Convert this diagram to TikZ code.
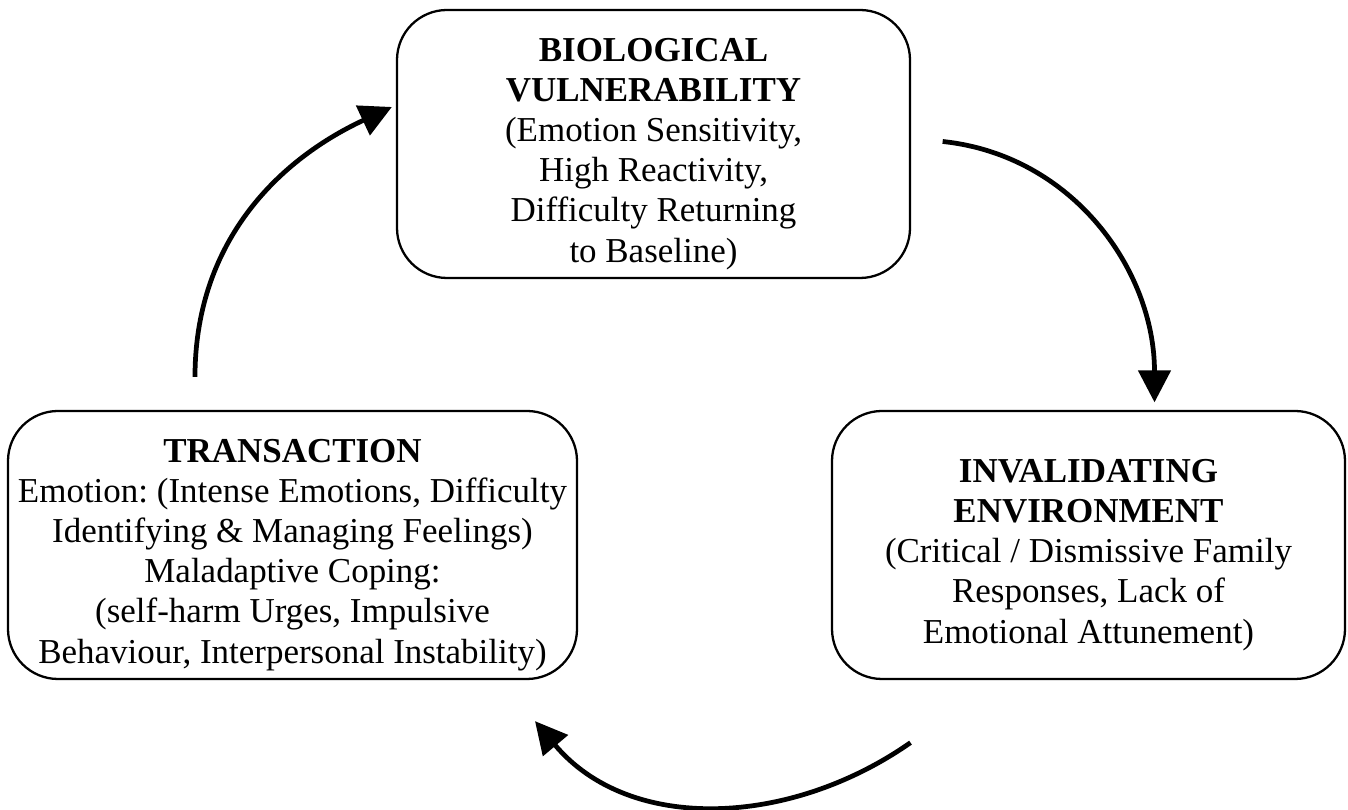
\documentclass[tikz,border=0pt]{standalone}
\usepackage{fontspec}
\setmainfont{Liberation Serif}
\usepackage{tikz}
\usetikzlibrary{arrows.meta, calc}
\frenchspacing

\tikzset{
  stage/.style={draw, line width=1.3pt, rounded corners=1cm, align=center,
    minimum height=5.36cm, inner sep=0.1cm,
    font=\fontsize{19.9}{22.8}\selectfont},
  cyclearrow/.style={line width=2.7pt, -{Triangle[length=0.64cm,width=0.64cm]}}
}

\begin{document}
\begin{tikzpicture}
\useasboundingbox (0,0) rectangle (26.96,16.2);
\node[stage,minimum width=10.26cm] (bio) at (13.07,13.32)
  {\rule{0pt}{24.6pt}\textbf{BIOLOGICAL}\\\textbf{VULNERABILITY}\\(Emotion Sensitivity,\\High Reactivity,\\Difficulty Returning\\to Baseline)};
\node[stage,minimum width=10.26cm] (inval) at (21.77,5.30)
  {\rule{0pt}{24.6pt}\textbf{INVALIDATING}\\\textbf{ENVIRONMENT}\\(Critical / Dismissive Family\\Responses, Lack of\\Emotional Attunement)};
\node[stage,minimum width=11.38cm] (trans) at (5.85,5.30)
  {\rule{0pt}{24.6pt}\textbf{TRANSACTION}\\Emotion: (Intense Emotions, Difficulty\\Identifying \& Managing Feelings)\\Maladaptive Coping:\\(self-harm Urges, Impulsive\\Behaviour, Interpersonal Instability)};
% arrow ends
\coordinate (bioOut) at ($(bio.east)+(0.63,0.05)$);
\coordinate (invalIn) at ($(inval.north)+(1.32,0.15)$);
\coordinate (invalOut) at ($(inval.south)+(-3.56,-1.25)$);
\coordinate (transIn) at ($(trans.south)+(4.85,-0.82)$);
\coordinate (transOut) at ($(trans.north)+(-1.95,0.66)$);
\coordinate (bioIn) at ($(bio.west)+(-0.08,0.74)$);
\draw[cyclearrow] (bioOut) to[out=-6,in=90] (invalIn);
\draw[cyclearrow] (invalOut) to[out=215,in=-50] (transIn);
\draw[cyclearrow] (transOut) to[out=90,in=205] (bioIn);
\end{tikzpicture}
\end{document}
